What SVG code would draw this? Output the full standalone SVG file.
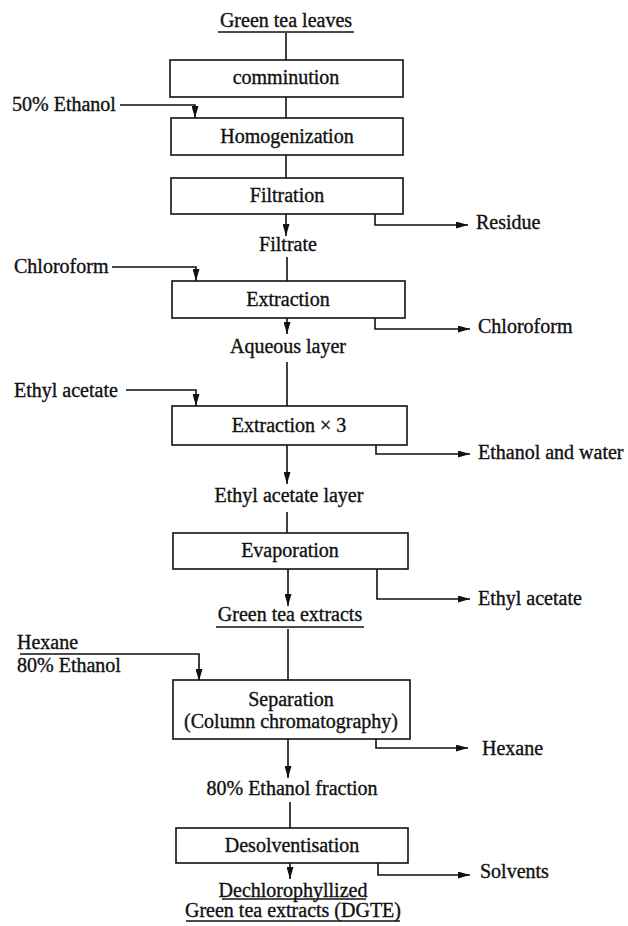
<svg xmlns="http://www.w3.org/2000/svg" width="628" height="926" viewBox="0 0 628 926">
<style>
text{font-family:"Liberation Serif","Times New Roman",serif;font-size:20px;fill:#111;stroke:#111;stroke-width:0.35}
.c{text-anchor:middle}
.box{fill:#fff;stroke:#111;stroke-width:1.6}
.ln{fill:none;stroke:#111;stroke-width:1.6}
.ar{fill:none;stroke:#111;stroke-width:1.6;marker-end:url(#ah)}
</style>
<defs>
<marker id="ah" markerUnits="userSpaceOnUse" markerWidth="12" markerHeight="7" refX="12" refY="3.5" orient="auto">
<path d="M0,0 L12,3.5 L0,7 z" fill="#111"/>
</marker>
</defs>
<rect width="628" height="926" fill="#fff"/>
<g id="connectors">
<line class="ln" x1="286" y1="33" x2="286" y2="60"/>
<line class="ln" x1="286" y1="97" x2="286" y2="118"/>
<path class="ar" d="M120,105 H195 V118"/>
<line class="ln" x1="286" y1="155" x2="286" y2="178"/>
<line class="ar" x1="286" y1="214" x2="286" y2="236"/>
<path class="ar" d="M375,214 V225 H468"/>
<line class="ln" x1="287" y1="257" x2="287" y2="281"/>
<path class="ar" d="M112,267 H196 V281"/>
<line class="ar" x1="287" y1="318" x2="287" y2="334"/>
<path class="ar" d="M375,318 V329 H470"/>
<line class="ln" x1="287" y1="362" x2="287" y2="406"/>
<path class="ar" d="M126,390 H196 V406"/>
<path class="ar" d="M376,445 V454 H470"/>
<line class="ar" x1="287" y1="445" x2="287" y2="484"/>
<line class="ln" x1="287" y1="512" x2="287" y2="533"/>
<line class="ar" x1="288" y1="569" x2="288" y2="606"/>
<path class="ar" d="M377,569 V599 H470"/>
<line class="ln" x1="288" y1="629" x2="288" y2="680"/>
<path class="ar" d="M20,654 H199 V681"/>
<path class="ar" d="M376,739 V748 H468"/>
<line class="ar" x1="288" y1="739" x2="288" y2="778"/>
<line class="ln" x1="290" y1="802" x2="290" y2="828"/>
<path class="ar" d="M378,863 V875 H470"/>
<line class="ar" x1="290" y1="863" x2="290" y2="879"/>
</g>
<g id="n-green-tea-leaves">
<text class="c" x="286" y="27">Green tea leaves</text>
<line class="ln" x1="218" y1="32" x2="354" y2="32"/>
</g>
<g id="n-comminution">
<rect class="box" x="170" y="60" width="233" height="37"/>
<text class="c" x="286" y="84">comminution</text>
</g>
<g id="n-ethanol50"><text x="12" y="111">50% Ethanol</text></g>
<g id="n-homogenization">
<rect class="box" x="171" y="118" width="232" height="37"/>
<text class="c" x="287" y="143">Homogenization</text>
</g>
<g id="n-filtration">
<rect class="box" x="171" y="178" width="232" height="36"/>
<text class="c" x="287" y="202">Filtration</text>
</g>
<g id="n-residue"><text x="476" y="229">Residue</text></g>
<g id="n-filtrate"><text class="c" x="288" y="251">Filtrate</text></g>
<g id="n-chloroform-in"><text x="14" y="273">Chloroform</text></g>
<g id="n-extraction">
<rect class="box" x="172" y="281" width="233" height="37"/>
<text class="c" x="288" y="306">Extraction</text>
</g>
<g id="n-chloroform-out"><text x="478" y="333">Chloroform</text></g>
<g id="n-aqueous"><text class="c" x="288" y="353">Aqueous layer</text></g>
<g id="n-ethylacetate-in"><text x="14" y="397">Ethyl acetate</text></g>
<g id="n-extraction3">
<rect class="box" x="172" y="406" width="235" height="39"/>
<text class="c" x="289" y="432">Extraction × 3</text>
</g>
<g id="n-ethanol-water"><text x="478" y="459">Ethanol and water</text></g>
<g id="n-ea-layer"><text class="c" x="289" y="502">Ethyl acetate layer</text></g>
<g id="n-evaporation">
<rect class="box" x="173" y="533" width="235" height="36"/>
<text class="c" x="290" y="557">Evaporation</text>
</g>
<g id="n-ethylacetate-out"><text x="478" y="605">Ethyl acetate</text></g>
<g id="n-gte">
<text class="c" x="290" y="621">Green tea extracts</text>
<line class="ln" x1="216" y1="627" x2="364" y2="627"/>
</g>
<g id="n-hexane-in">
<text x="17" y="649">Hexane</text>
<text x="17" y="672">80% Ethanol</text>
</g>
<g id="n-separation">
<rect class="box" x="173" y="680" width="237" height="59"/>
<text class="c" x="291" y="706">Separation</text>
<text class="c" x="291" y="728">(Column chromatography)</text>
</g>
<g id="n-hexane-out"><text x="482" y="755">Hexane</text></g>
<g id="n-fraction"><text class="c" x="292" y="795">80% Ethanol fraction</text></g>
<g id="n-desolv">
<rect class="box" x="176" y="828" width="232" height="35"/>
<text class="c" x="292" y="852">Desolventisation</text>
</g>
<g id="n-solvents"><text x="480" y="878">Solvents</text></g>
<g id="n-dgte">
<text class="c" x="293" y="897">Dechlorophyllized</text>
<line class="ln" x1="222" y1="899" x2="366" y2="899"/>
<text class="c" x="293" y="917">Green tea extracts (DGTE)</text>
<line class="ln" x1="186" y1="921" x2="400" y2="921"/>
</g>
</svg>
